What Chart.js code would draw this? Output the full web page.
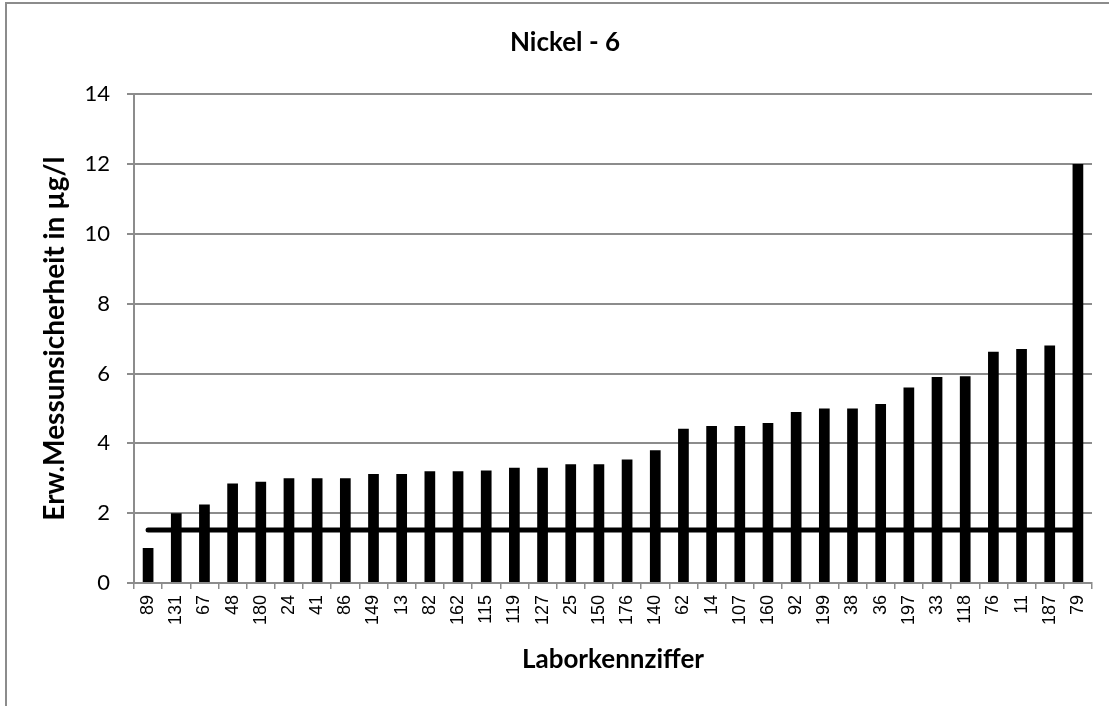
<!DOCTYPE html>
<html>
<head>
<meta charset="utf-8">
<script src="https://cdn.jsdelivr.net/npm/chart.js@4"></script>
<style>
  html, body { margin: 0; padding: 0; background: #fff; overflow: hidden; }
  #wrap { position: relative; width: 1140px; height: 706px; }
</style>
</head>
<body>
<div id="wrap"><canvas id="c"></canvas></div>
<script>
// ---- data ----
const labCodes = ['89','131','67','48','180','24','41','86','149','13','82','162','115','119','127','25','150','176','140','62','14','107','160','92','199','38','36','197','33','118','76','11','187','79'];
const uncertainty = [1.0,2.0,2.25,2.85,2.9,3.0,3.0,3.0,3.12,3.12,3.2,3.2,3.22,3.3,3.3,3.4,3.4,3.54,3.8,4.42,4.5,4.5,4.58,4.9,5.0,5.0,5.13,5.6,5.9,5.92,6.62,6.7,6.8,12.0];
const referenceLine = [1.52,1.52,1.52,1.52,1.52,1.52,1.52,1.52,1.52,1.52,1.52,1.52,1.52,1.52,1.52,1.52,1.52,1.52,1.52,1.52,1.52,1.52,1.52,1.52,1.52,1.52,1.52,1.52,1.52,1.52,1.52,1.52,1.52,1.52];
const yTicks = [0,2,4,6,8,10,12,14];
const chartTitle = 'Nickel - 6';
const yTitle = 'Erw.Messunsicherheit in µg/l';
const xTitle = 'Laborkennziffer';

const GRID = '#8c8c8c';
Chart.defaults.color = '#000';
Chart.defaults.font.family = "'Liberation Sans', Arial, sans-serif";
Chart.defaults.font.size = 18;

const frame = {
  id: 'frame',
  beforeDraw(chart) {
    const ctx = chart.ctx;
    ctx.save();
    ctx.fillStyle = '#fff';
    ctx.fillRect(0, 0, chart.width, chart.height);
    ctx.strokeStyle = '#8c8c8c';
    ctx.lineWidth = 2;
    ctx.strokeRect(6, 3, 1400, 1000);
    ctx.restore();
  },
  afterDraw(chart) {
    // warm up tick fonts (no visible output)
    const ctx = chart.ctx;
    const fy = chart.scales.y._resolveTickFontOptions(0);
    const fx = chart.scales.x._resolveTickFontOptions(0);
    ctx.save();
    ctx.font = fy.string; ctx.measureText('14');
    ctx.font = fx.string; ctx.measureText('131');
    ctx.restore();
  }
};

new Chart(document.getElementById('c'), {
  type: 'bar',
  data: {
    labels: labCodes,
    datasets: [
      {
        type: 'line',
        data: referenceLine,
        borderColor: '#000',
        borderWidth: 5,
        borderCapStyle: 'round',
        pointRadius: 0,
        fill: false,
        tension: 0,
        order: 1
      },
      {
        type: 'bar',
        data: uncertainty,
        backgroundColor: '#000',
        borderWidth: 0,
        barPercentage: 0.38,
        categoryPercentage: 1.0,
        order: 0
      }
    ]
  },
  options: {
    responsive: true,
    maintainAspectRatio: false,
    animation: false,
    layout: { padding: { left: 6, right: 16, top: 0, bottom: 0 } },
    plugins: {
      legend: { display: false },
      tooltip: { enabled: false },
      title: {
        display: true,
        text: chartTitle,
        font: { family: 'Lato', size: 26, weight: 'bold' },
        color: '#000',
        padding: { top: 27, bottom: 36 }
      }
    },
    scales: {
      x: {
        type: 'category',
        offset: true,
        grid: { display: true, drawOnChartArea: false, drawTicks: true, tickLength: 6, color: GRID, lineWidth: 1.5, offset: true },
        border: { display: true, color: GRID, width: 2 },
        ticks: {
          autoSkip: false,
          minRotation: 90,
          maxRotation: 90,
          padding: 6,
          font: { family: "'Liberation Sans', Arial, sans-serif", size: 18 },
          color: '#000'
        },
        title: {
          display: true,
          text: xTitle,
          font: { family: 'Lato', size: 26, weight: 'bold' },
          color: '#000',
          padding: { top: 0, bottom: 31 }
        },
        afterFit(s) { s.height = 123; }
      },
      y: {
        type: 'linear',
        min: 0,
        max: 14,
        afterBuildTicks(s) { s.ticks = yTicks.map(v => ({ value: v })); },
        grid: { color: GRID, lineWidth: 2, tickLength: 7, drawTicks: true },
        border: { display: true, color: GRID, width: 2 },
        ticks: {
          padding: 17,
          font: { family: 'Lato', size: 22 },
          color: '#000'
        },
        title: {
          display: true,
          text: yTitle,
          font: { family: 'Lato', size: 28, weight: 'bold' },
          color: '#000',
          padding: { top: 32, bottom: 0 }
        },
        afterFit(s) { s.width = 128; }
      },
      yR: {
        type: 'linear',
        position: 'right',
        display: true,
        grid: { display: false, drawTicks: false },
        border: { display: false },
        ticks: { display: false },
        afterFit(s) { s.width = 32; }
      }
    }
  },
  plugins: [frame]
});
</script>
</body>
</html>
